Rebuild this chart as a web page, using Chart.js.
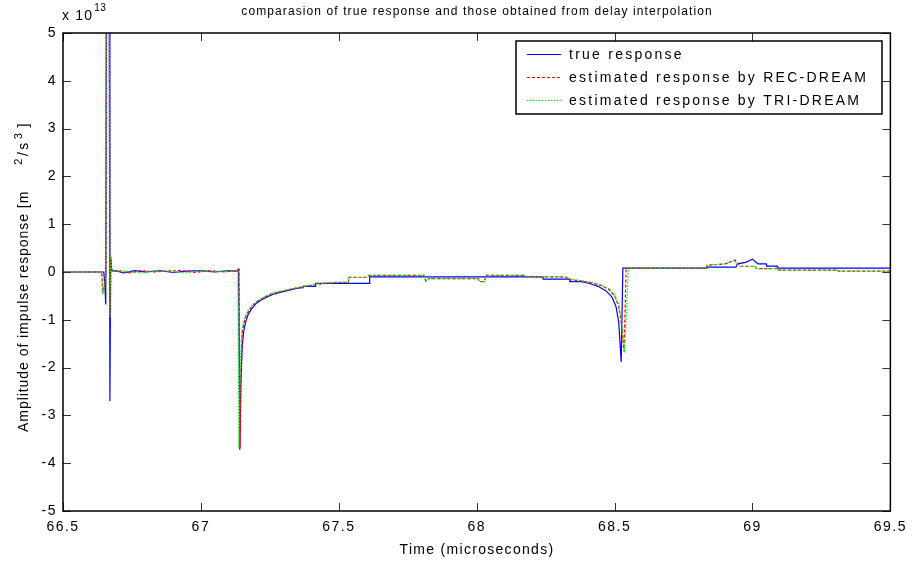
<!DOCTYPE html>
<html>
<head>
<meta charset="utf-8">
<script src="https://cdn.jsdelivr.net/npm/chart.js@4.4.0/dist/chart.umd.min.js"></script>
<style>
  html, body { margin: 0; padding: 0; background: #fff; }
  #wrap { width: 912px; height: 562px; }
</style>
</head>
<body>
<div id="wrap"><canvas id="respChart" width="912" height="562"></canvas></div>
<script>
// time axis in microseconds, amplitude in units of 1e13 m^2/s^3
const xTicks = [66.5, 67, 67.5, 68, 68.5, 69, 69.5];
const yTicks = [-5, -4, -3, -2, -1, 0, 1, 2, 3, 4, 5];

const seriesNames = ['true response', 'estimated response by REC-DREAM', 'estimated response by TRI-DREAM'];

// true response
const trueX = [66.5, 66.648, 66.652, 66.655, 66.658, 66.667, 66.670, 66.673, 66.677, 66.69, 66.72, 66.76, 66.8, 66.85, 66.9, 66.95, 67.0, 67.05, 67.1, 67.13, 67.137,
  67.141, 67.145, 67.150, 67.155, 67.162, 67.172, 67.185, 67.2, 67.22, 67.24, 67.26, 67.29, 67.32, 67.35, 67.37, 67.371, 67.415, 67.416, 67.611, 67.612,
  68.24, 68.241, 68.337, 68.338, 68.38, 68.41, 68.44, 68.47, 68.49, 68.505, 68.515, 68.524, 68.530, 68.834, 68.835, 68.94, 68.945, 68.975, 69.0, 69.02,
  69.05, 69.051, 69.09, 69.091, 69.5];
const trueY = [0, 0, -0.3, -0.68, 8, 8, -2.7, 0.3, 0.02, 0.03, -0.02, 0.03, 0.0, 0.03, -0.01, 0.02, 0.03, 0.0, 0.03, 0.02, 0.06,
  -3.72, -2.3, -1.55, -1.25, -1.05, -0.88, -0.76, -0.66, -0.58, -0.52, -0.47, -0.42, -0.38, -0.34, -0.33, -0.30, -0.30, -0.24, -0.24, -0.10,
  -0.10, -0.15, -0.15, -0.20, -0.20, -0.24, -0.30, -0.40, -0.52, -0.72, -1.05, -1.88, 0.08, 0.08, 0.10, 0.10, 0.17, 0.20, 0.27, 0.17,
  0.17, 0.125, 0.125, 0.08, 0.08];

// REC-DREAM estimate
const recX = [66.5, 66.640, 66.645, 66.650, 66.656, 66.658, 66.668, 66.670, 66.673, 66.677, 66.70, 66.74, 66.78, 66.83, 66.88, 66.93, 66.98, 67.03, 67.08, 67.12, 67.138,
  67.142, 67.146, 67.150, 67.155, 67.162, 67.172, 67.185, 67.2, 67.22, 67.24, 67.26, 67.29, 67.32, 67.35, 67.38, 67.42, 67.45, 67.5, 67.535, 67.536, 67.6, 67.61,
  67.81, 67.815, 67.825, 68.005, 68.01, 68.028, 68.034, 68.175, 68.18, 68.32, 68.34, 68.38, 68.42, 68.45, 68.48, 68.5, 68.515, 68.525, 68.534, 68.542,
  68.834, 68.835, 68.9, 68.937, 68.955, 69.01, 69.015, 69.09, 69.091, 69.31, 69.311, 69.5];
const recY = [0, 0, -0.4, -0.3, 0, 8, 8, -0.95, 0.3, 0.02, 0.02, -0.02, 0.03, 0.0, 0.02, 0.03, -0.01, 0.03, 0.0, 0.02, 0.05,
  -3.68, -2.0, -1.3, -1.1, -0.95, -0.82, -0.72, -0.63, -0.56, -0.5, -0.45, -0.41, -0.37, -0.33, -0.3, -0.26, -0.24, -0.22, -0.22, -0.11, -0.11, -0.07,
  -0.07, -0.19, -0.14, -0.14, -0.2, -0.2, -0.07, -0.07, -0.1, -0.1, -0.16, -0.19, -0.23, -0.28, -0.37, -0.5, -0.72, -1.1, -1.66, 0.08,
  0.08, 0.14, 0.17, 0.25, 0.12, 0.12, 0.07, 0.07, 0.04, 0.04, 0.02, 0.02];

// TRI-DREAM estimate
const triX = [66.5, 66.640, 66.642, 66.648, 66.655, 66.657, 66.668, 66.670, 66.673, 66.677, 66.71, 66.75, 66.79, 66.84, 66.89, 66.94, 66.99, 67.04, 67.09, 67.12, 67.134,
  67.138, 67.143, 67.148, 67.154, 67.161, 67.171, 67.184, 67.2, 67.22, 67.24, 67.26, 67.29, 67.32, 67.35, 67.38, 67.42, 67.45, 67.5, 67.534, 67.535, 67.6, 67.61,
  67.81, 67.815, 67.825, 68.005, 68.01, 68.028, 68.034, 68.175, 68.18, 68.32, 68.34, 68.38, 68.42, 68.45, 68.48, 68.5, 68.515, 68.527, 68.536, 68.55,
  68.834, 68.835, 68.9, 68.935, 68.952, 69.01, 69.015, 69.09, 69.091, 69.31, 69.311, 69.5];
const triY = [0, 0, -0.44, -0.44, -0.1, 8, 8, -0.96, 0.33, 0.01, 0.03, 0.0, -0.02, 0.03, 0.01, -0.02, 0.03, 0.0, 0.02, 0.03, 0.04,
  -3.68, -1.9, -1.25, -1.05, -0.92, -0.8, -0.7, -0.62, -0.55, -0.49, -0.44, -0.4, -0.36, -0.32, -0.29, -0.25, -0.23, -0.21, -0.21, -0.11, -0.11, -0.07,
  -0.07, -0.19, -0.14, -0.14, -0.2, -0.2, -0.07, -0.07, -0.1, -0.1, -0.15, -0.18, -0.22, -0.27, -0.35, -0.47, -0.68, -1.1, -1.69, 0.08,
  0.08, 0.14, 0.17, 0.24, 0.12, 0.12, 0.07, 0.07, 0.04, 0.04, 0.02, 0.02];

const FONT = '"Liberation Sans", Arial, Helvetica, sans-serif';

function toPoints(xs, ys){
  return xs.map((x, i) => ({ x, y: ys[i] }));
}

// spaced-out text, like the old matlab figure export
function spacedText(ctx, txt, x, y, spacing){
  if ('letterSpacing' in ctx) {
    ctx.letterSpacing = '0px';
    const w = ctx.measureText(txt).width + spacing * txt.length;
    ctx.letterSpacing = spacing + 'px';
    ctx.fillText(txt, x, y);
    ctx.letterSpacing = '0px';
    return w;
  }
  let cx = x;
  for (const ch of txt) {
    ctx.fillText(ch, cx, y);
    cx += ctx.measureText(ch).width + spacing;
  }
  return cx - x;
}

function textWidth(ctx, txt, spacing){
  if ('letterSpacing' in ctx) ctx.letterSpacing = '0px';
  return ctx.measureText(txt).width + spacing * txt.length;
}

// frame, inward ticks, legend and labels
const decorations = {
  id: 'decorations',
  beforeDraw(chart){
    const ctx = chart.ctx;
    if ('letterSpacing' in ctx) ctx.letterSpacing = '1.5px';
  },
  afterDraw(chart){
    const ctx = chart.ctx;
    const a = chart.chartArea;
    const xs = chart.scales.x, ys = chart.scales.y;
    ctx.save();
    if ('letterSpacing' in ctx) ctx.letterSpacing = '0px';

    // ticks
    ctx.strokeStyle = '#333';
    ctx.lineWidth = 1;
    ctx.beginPath();
    xTicks.forEach(t => {
      const px = Math.round(xs.getPixelForValue(t)) + 0.5;
      ctx.moveTo(px, a.bottom); ctx.lineTo(px, a.bottom - 8);
      ctx.moveTo(px, a.top); ctx.lineTo(px, a.top + 8);
    });
    yTicks.forEach(t => {
      const py = Math.round(ys.getPixelForValue(t)) + 0.5;
      ctx.moveTo(a.left, py); ctx.lineTo(a.left + 8, py);
      ctx.moveTo(a.right, py); ctx.lineTo(a.right - 8, py);
    });
    ctx.stroke();

    // box
    ctx.strokeStyle = '#000';
    ctx.lineWidth = 1.5;
    ctx.strokeRect(a.left, a.top, a.right - a.left, a.bottom - a.top);

    // legend
    const lx = 516, ly = 41, lw = 366, lh = 73;
    ctx.fillStyle = '#fff';
    ctx.fillRect(lx, ly, lw, lh);
    ctx.strokeStyle = '#000';
    ctx.lineWidth = 1.5;
    ctx.strokeRect(lx, ly, lw, lh);
    ctx.font = '14px ' + FONT;
    ctx.textBaseline = 'middle';
    ctx.textAlign = 'left';
    const rows = [54.5, 77.5, 100.5];
    chart.data.datasets.forEach((ds, i) => {
      ctx.strokeStyle = ds.borderColor;
      ctx.lineWidth = 1;
      ctx.setLineDash(ds.borderDash || []);
      ctx.beginPath();
      ctx.moveTo(527, rows[i]); ctx.lineTo(561, rows[i]);
      ctx.stroke();
      ctx.setLineDash([]);
      ctx.fillStyle = '#000';
      spacedText(ctx, ds.label, 569, rows[i] + 1, 2.25);
    });

    // title
    ctx.fillStyle = '#000';
    ctx.font = '12px ' + FONT;
    ctx.textBaseline = 'alphabetic';
    const title = 'comparasion of true response and those obtained from delay interpolation';
    const tw = textWidth(ctx, title, 1.1);
    spacedText(ctx, title, 477 - tw / 2, 15, 1.1);

    // x axis title
    ctx.font = '14px ' + FONT;
    const xt = 'Time (microseconds)';
    const xw = textWidth(ctx, xt, 1.3);
    spacedText(ctx, xt, 477 - xw / 2, 554, 1.3);

    // exponent
    ctx.font = '14px ' + FONT;
    const ew = spacedText(ctx, 'x 10', 62, 20, 1.2);
    ctx.font = '10px ' + FONT;
    spacedText(ctx, '13', 62 + ew + 1, 11, 0.5);

    // y axis title, rotated
    ctx.save();
    ctx.translate(28, 432);
    ctx.rotate(-Math.PI / 2);
    ctx.font = '14px ' + FONT;
    let w = spacedText(ctx, 'Amplitude of impulse response [m', 0, 0, 0.95);
    let p = w + 26;
    ctx.font = '11px ' + FONT;
    p += spacedText(ctx, '2', p, -6, 1.5);
    ctx.font = '14px ' + FONT;
    p += spacedText(ctx, '/s', p + 1, 0, 2.5) + 1;
    ctx.font = '11px ' + FONT;
    p += spacedText(ctx, '3', p + 1, -6, 1.5) + 1;
    ctx.font = '14px ' + FONT;
    spacedText(ctx, ']', p + 4, 0, 1.2);
    ctx.restore();

    ctx.restore();
  }
};

const datasets = [
  { label: seriesNames[0], data: toPoints(trueX, trueY), borderColor: '#0000ff', borderWidth: 1.2, order: 2 },
  { label: seriesNames[1], data: toPoints(recX, recY), borderColor: '#ff0000', borderWidth: 1.2, borderDash: [3, 2], order: 1 },
  { label: seriesNames[2], data: toPoints(triX, triY), borderColor: '#00ee00', borderWidth: 1.2, borderDash: [1.5, 1.5], order: 0 }
];

new Chart(document.getElementById('respChart'), {
  type: 'line',
  data: { datasets },
  options: {
    responsive: false,
    animation: false,
    events: [],
    layout: { padding: { left: 0, top: 33, right: 21, bottom: 0 } },
    elements: { point: { radius: 0 }, line: { tension: 0 } },
    plugins: { legend: { display: false }, tooltip: { enabled: false } },
    scales: {
      x: {
        type: 'linear', min: 66.5, max: 69.5,
        afterBuildTicks: s => { s.ticks = xTicks.map(v => ({ value: v })); },
        afterFit: s => { s.height = 51; },
        grid: { display: false, drawTicks: false }, border: { display: false },
        ticks: { padding: 8, color: '#000', font: { family: FONT, size: 14 }, maxRotation: 0, autoSkip: false, callback: v => String(v) }
      },
      y: {
        min: -5, max: 5,
        afterBuildTicks: s => { s.ticks = yTicks.map(v => ({ value: v })); },
        afterFit: s => { s.width = 63; },
        grid: { display: false, drawTicks: false }, border: { display: false },
        ticks: { padding: 6, color: '#000', font: { family: FONT, size: 14 }, callback: v => String(v) }
      }
    }
  },
  plugins: [decorations]
});
</script>
</body>
</html>
